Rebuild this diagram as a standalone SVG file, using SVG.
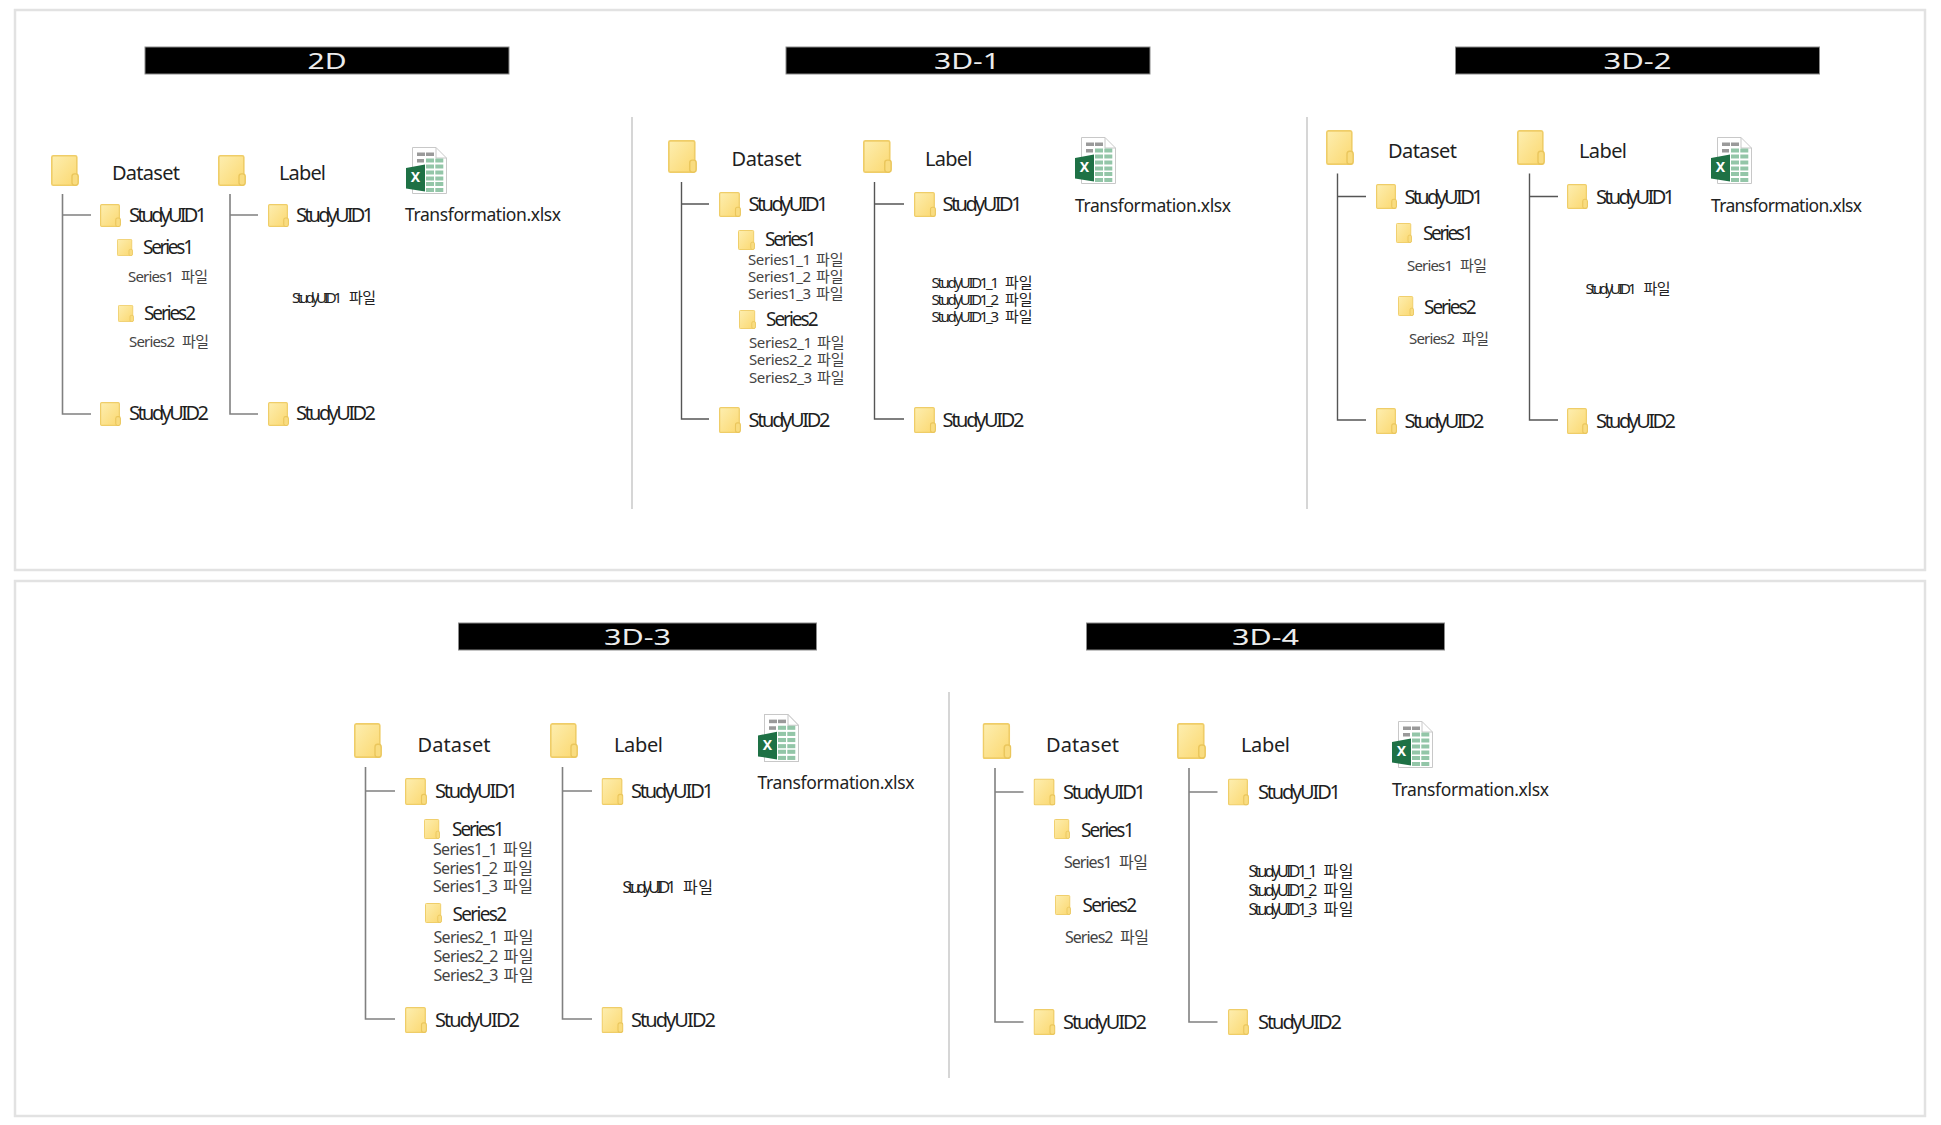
<svg xmlns="http://www.w3.org/2000/svg" width="1941" height="1125" viewBox="0 0 1941 1125">
<style>
text{font-family:"Noto Sans","Noto Sans CJK KR",sans-serif;fill:#1f1f1f}
.panel{fill:#fff;stroke:#e2e2e2;stroke-width:2.5}
.bar{fill:#000;stroke:#8a8a8a;stroke-width:1}
.cap{font-size:21px;fill:#ececec;text-anchor:middle}
.h{font-size:20px}
.s{font-size:20px}
.r{font-size:19px}
.f{font-size:15px;fill:#444}
.l{font-size:15px;fill:#222}
.big{font-size:16px}
.x{font-size:17.5px;fill:#222}
.div{fill:none;stroke:#d6d6d6;stroke-width:2}
.c{fill:none;stroke:#808080;stroke-width:1.6}
.cd{fill:none;stroke:#555;stroke-width:1.4}
</style>
<defs>
<linearGradient id="fg" x1="0" y1="0" x2="1" y2="1"><stop offset="0" stop-color="#fdeeb0"/><stop offset="1" stop-color="#fbd870"/></linearGradient>
<symbol id="folder" viewBox="0 0 28 32" preserveAspectRatio="none">
<rect x="0.8" y="0.8" width="25" height="30.4" rx="1.5" fill="url(#fg)" stroke="#efcd68" stroke-width="1.6"/>
<rect x="21" y="19.5" width="6.2" height="11.7" rx="2.5" fill="#f9dc80" stroke="#eac65c" stroke-width="1.4"/>
</symbol>
<symbol id="xl" viewBox="0 0 41 47" preserveAspectRatio="none">
<path d="M6.5 .5H30L40.5 11V46.5H6.5Z" fill="#fff" stroke="#c8c8c8"/>
<path d="M30 .5V11H40.5" fill="none" stroke="#c8c8c8"/>
<g fill="#9a9a9a"><rect x="11" y="5.5" width="8" height="3.5"/><rect x="20" y="5.5" width="8" height="3.5"/><rect x="11" y="12" width="7" height="3.5"/></g>
<g fill="#93c6a8"><rect x="20" y="11.5" width="8" height="4"/><rect x="29.3" y="11.5" width="8" height="4"/><rect x="20" y="17.5" width="8" height="4"/><rect x="29.3" y="17.5" width="8" height="4"/><rect x="20" y="23.5" width="8" height="4"/><rect x="29.3" y="23.5" width="8" height="4"/><rect x="20" y="29.5" width="8" height="4"/><rect x="29.3" y="29.5" width="8" height="4"/><rect x="20" y="35" width="8" height="4"/><rect x="29.3" y="35" width="8" height="4"/><rect x="20" y="41" width="8" height="4"/><rect x="29.3" y="41" width="8" height="4"/></g>
<path d="M0 21 19 17.5V44.5L0 41.5Z" fill="#1e7145"/>
<text x="9.5" y="35" font-size="14" font-weight="700" text-anchor="middle" style="fill:#fff">X</text>
</symbol>
</defs>
<rect width="1941" height="1125" fill="#fff"/>
<rect class="panel" x="15" y="10" width="1910" height="560"/>
<rect class="panel" x="15" y="581" width="1910" height="535"/>
<line class="div" x1="632" y1="117" x2="632" y2="509"/>
<line class="div" x1="1307" y1="117" x2="1307" y2="509"/>
<line class="div" x1="949" y1="692" x2="949" y2="1078"/>

<g id="connectors">
<path class="c" d="M62.5 194V414H91M62.5 215H91M230 194V414H258M230 215H258"/>
<path class="cd" d="M681.5 182V419H709M681.5 204H709M874.5 182V419H904M874.5 204H904"/>
<path class="cd" d="M1337.5 173.5V420H1366M1337.5 196.5H1366M1529.5 173.5V420H1558M1529.5 196.5H1558"/>
<path class="c" d="M365.5 767V1019H395M365.5 791H395M562.5 767V1019H592M562.5 791H592"/>
<path class="c" d="M995 768V1022H1023.5M995 792H1023.5M1189 768V1022H1217.5M1189 792H1217.5"/>
</g>

<!-- 2D -->
<g id="title-2d"><rect class="bar" x="145" y="47" width="364" height="27"/><text class="cap" x="327" y="69" textLength="39" lengthAdjust="spacingAndGlyphs">2D</text></g>
<g id="d2-dataset"><use href="#folder" x="51" y="155" width="28" height="31"/><text class="h" x="112" y="180" textLength="68">Dataset</text></g>
<g id="d2-label"><use href="#folder" x="218" y="155" width="28" height="31"/><text class="h" x="279" y="180" textLength="47">Label</text></g>
<g id="d2-xlsx"><use href="#xl" x="406" y="147" width="41" height="47"/><text class="x" x="405" y="221" textLength="156">Transformation.xlsx</text></g>
<g id="d2-ds-study1"><use href="#folder" x="100" y="204" width="21" height="23"/><text class="s" x="129" y="222" textLength="78">StudyUID1</text></g>
<g id="d2-series1"><use href="#folder" x="117" y="239" width="16" height="17"/><text class="r" x="143" y="254" textLength="51">Series1</text></g>
<g id="d2-series1-file"><text class="f" x="128" y="282"><tspan textLength="46">Series1</tspan> <tspan x="181" textLength="27">파일</tspan></text></g>
<g id="d2-series2"><use href="#folder" x="118" y="305" width="16" height="17"/><text class="r" x="144" y="320" textLength="52">Series2</text></g>
<g id="d2-series2-file"><text class="f" x="129" y="347"><tspan textLength="46">Series2</tspan> <tspan x="182" textLength="27">파일</tspan></text></g>
<g id="d2-ds-study2"><use href="#folder" x="100" y="402" width="21" height="24"/><text class="s" x="129" y="420" textLength="80">StudyUID2</text></g>
<g id="d2-lb-study1"><use href="#folder" x="268" y="204" width="21" height="23"/><text class="s" x="296" y="222" textLength="78">StudyUID1</text></g>
<g id="d2-lb-file"><text class="l" x="292" y="303"><tspan textLength="50">StudyUID1</tspan> <tspan x="349" textLength="27">파일</tspan></text></g>
<g id="d2-lb-study2"><use href="#folder" x="268" y="402" width="21" height="24"/><text class="s" x="296" y="420" textLength="80">StudyUID2</text></g>

<!-- 3D-1 -->
<g id="title-3d1"><rect class="bar" x="786" y="47" width="364" height="27"/><text class="cap" x="967" y="69" textLength="66" lengthAdjust="spacingAndGlyphs">3D-1</text></g>
<g id="a-dataset"><use href="#folder" x="668" y="140" width="29" height="33"/><text class="h" x="731.5" y="166" textLength="70">Dataset</text></g>
<g id="a-label"><use href="#folder" x="863" y="140" width="29" height="33"/><text class="h" x="925" y="166" textLength="47.5">Label</text></g>
<g id="a-xlsx"><use href="#xl" x="1075" y="137" width="41" height="47"/><text class="x" x="1075" y="212" textLength="156">Transformation.xlsx</text></g>
<g id="a-ds-study1"><use href="#folder" x="719" y="192" width="22" height="25"/><text class="s" x="748.5" y="211" textLength="80">StudyUID1</text></g>
<g id="a-series1"><use href="#folder" x="738" y="230" width="17" height="20"/><text class="r" x="765" y="246" textLength="51.5">Series1</text></g>
<g id="a-s1-files"><text class="f" x="748" y="265"><tspan textLength="63">Series1_1</tspan> <tspan x="816" textLength="27.5">파일</tspan></text><text class="f" x="748" y="282"><tspan textLength="63">Series1_2</tspan> <tspan x="816" textLength="27.5">파일</tspan></text><text class="f" x="748" y="299"><tspan textLength="63">Series1_3</tspan> <tspan x="816" textLength="27.5">파일</tspan></text></g>
<g id="a-series2"><use href="#folder" x="739" y="310" width="17" height="19"/><text class="r" x="766" y="326" textLength="52.5">Series2</text></g>
<g id="a-s2-files"><text class="f" x="749" y="348"><tspan textLength="63">Series2_1</tspan> <tspan x="817" textLength="27.5">파일</tspan></text><text class="f" x="749" y="365"><tspan textLength="63">Series2_2</tspan> <tspan x="817" textLength="27.5">파일</tspan></text><text class="f" x="749" y="382.5"><tspan textLength="63">Series2_3</tspan> <tspan x="817" textLength="27.5">파일</tspan></text></g>
<g id="a-ds-study2"><use href="#folder" x="719" y="407" width="22" height="26"/><text class="s" x="748.5" y="427" textLength="82">StudyUID2</text></g>
<g id="a-lb-study1"><use href="#folder" x="914" y="192" width="22" height="25"/><text class="s" x="942.5" y="211" textLength="80">StudyUID1</text></g>
<g id="a-lb-files"><text class="l" x="931.5" y="288"><tspan textLength="67.5">StudyUID1_1</tspan> <tspan x="1005" textLength="27.5">파일</tspan></text><text class="l" x="931.5" y="305"><tspan textLength="67.5">StudyUID1_2</tspan> <tspan x="1005" textLength="27.5">파일</tspan></text><text class="l" x="931.5" y="322"><tspan textLength="67.5">StudyUID1_3</tspan> <tspan x="1005" textLength="27.5">파일</tspan></text></g>
<g id="a-lb-study2"><use href="#folder" x="914" y="407" width="22" height="26"/><text class="s" x="942.5" y="427" textLength="82">StudyUID2</text></g>

<!-- 3D-2 -->
<g id="title-3d2"><rect class="bar" x="1455.5" y="47" width="364" height="27"/><text class="cap" x="1637.5" y="69" textLength="68" lengthAdjust="spacingAndGlyphs">3D-2</text></g>
<g id="b-dataset"><use href="#folder" x="1326" y="130" width="28" height="35"/><text class="h" x="1388" y="157.5" textLength="69">Dataset</text></g>
<g id="b-label"><use href="#folder" x="1517" y="130" width="28" height="35"/><text class="h" x="1579" y="157.5" textLength="48">Label</text></g>
<g id="b-xlsx"><use href="#xl" x="1711" y="137" width="41" height="47"/><text class="x" x="1711" y="212" textLength="151">Transformation.xlsx</text></g>
<g id="b-ds-study1"><use href="#folder" x="1376" y="184" width="21" height="25"/><text class="s" x="1404.5" y="204" textLength="79">StudyUID1</text></g>
<g id="b-series1"><use href="#folder" x="1396" y="223" width="16" height="20"/><text class="r" x="1423" y="240" textLength="50.5">Series1</text></g>
<g id="b-s1-file"><text class="f" x="1407" y="271"><tspan textLength="46">Series1</tspan> <tspan x="1460" textLength="27">파일</tspan></text></g>
<g id="b-series2"><use href="#folder" x="1398" y="296" width="16" height="20"/><text class="r" x="1424" y="313.5" textLength="52.5">Series2</text></g>
<g id="b-s2-file"><text class="f" x="1409" y="344"><tspan textLength="46">Series2</tspan> <tspan x="1462" textLength="27">파일</tspan></text></g>
<g id="b-ds-study2"><use href="#folder" x="1376" y="408" width="21" height="26"/><text class="s" x="1404.5" y="427.5" textLength="80">StudyUID2</text></g>
<g id="b-lb-study1"><use href="#folder" x="1567" y="184" width="21" height="25"/><text class="s" x="1596" y="204" textLength="79">StudyUID1</text></g>
<g id="b-lb-file"><text class="l" x="1585.5" y="293.5"><tspan textLength="51">StudyUID1</tspan> <tspan x="1643.5" textLength="27">파일</tspan></text></g>
<g id="b-lb-study2"><use href="#folder" x="1567" y="408" width="21" height="26"/><text class="s" x="1596" y="427.5" textLength="80">StudyUID2</text></g>

<!-- 3D-3 -->
<g id="title-3d3"><rect class="bar" x="458.5" y="623" width="358" height="27"/><text class="cap" x="637.5" y="645" textLength="67" lengthAdjust="spacingAndGlyphs">3D-3</text></g>
<g id="c-dataset"><use href="#folder" x="354" y="723" width="28" height="35"/><text class="h" x="417.5" y="752" textLength="73">Dataset</text></g>
<g id="c-label"><use href="#folder" x="550" y="723" width="28" height="35"/><text class="h" x="614" y="752" textLength="49">Label</text></g>
<g id="c-xlsx"><use href="#xl" x="758" y="714" width="41" height="48"/><text class="x" x="757.5" y="788.5" textLength="157">Transformation.xlsx</text></g>
<g id="c-ds-study1"><use href="#folder" x="405" y="778" width="22" height="27"/><text class="s" x="435" y="798" textLength="83">StudyUID1</text></g>
<g id="c-series1"><use href="#folder" x="424" y="819" width="16" height="20"/><text class="r" x="452" y="836" textLength="52.5">Series1</text></g>
<g id="c-s1-files"><text class="f big" x="433" y="855"><tspan textLength="65">Series1_1</tspan> <tspan x="503" textLength="30">파일</tspan></text><text class="f big" x="433" y="873.5"><tspan textLength="65">Series1_2</tspan> <tspan x="503" textLength="30">파일</tspan></text><text class="f big" x="433" y="892"><tspan textLength="65">Series1_3</tspan> <tspan x="503" textLength="30">파일</tspan></text></g>
<g id="c-series2"><use href="#folder" x="425" y="903" width="17" height="20"/><text class="r" x="452.5" y="920.5" textLength="54.5">Series2</text></g>
<g id="c-s2-files"><text class="f big" x="433.5" y="943"><tspan textLength="65">Series2_1</tspan> <tspan x="503.5" textLength="30">파일</tspan></text><text class="f big" x="433.5" y="962"><tspan textLength="65">Series2_2</tspan> <tspan x="503.5" textLength="30">파일</tspan></text><text class="f big" x="433.5" y="980.5"><tspan textLength="65">Series2_3</tspan> <tspan x="503.5" textLength="30">파일</tspan></text></g>
<g id="c-ds-study2"><use href="#folder" x="405" y="1007" width="22" height="26"/><text class="s" x="435" y="1026.5" textLength="85">StudyUID2</text></g>
<g id="c-lb-study1"><use href="#folder" x="601.5" y="778" width="22" height="27"/><text class="s" x="631" y="798" textLength="83">StudyUID1</text></g>
<g id="c-lb-file"><text class="l big" x="622.5" y="893"><tspan textLength="53.5">StudyUID1</tspan> <tspan x="683" textLength="30">파일</tspan></text></g>
<g id="c-lb-study2"><use href="#folder" x="601.5" y="1007" width="22" height="26"/><text class="s" x="631" y="1026.5" textLength="85">StudyUID2</text></g>

<!-- 3D-4 -->
<g id="title-3d4"><rect class="bar" x="1086.5" y="623" width="358" height="27"/><text class="cap" x="1265.5" y="645" textLength="67" lengthAdjust="spacingAndGlyphs">3D-4</text></g>
<g id="e-dataset"><use href="#folder" x="982.5" y="723" width="29" height="36"/><text class="h" x="1046" y="752" textLength="73">Dataset</text></g>
<g id="e-label"><use href="#folder" x="1177" y="723" width="29" height="36"/><text class="h" x="1241" y="752" textLength="49">Label</text></g>
<g id="e-xlsx"><use href="#xl" x="1392" y="721" width="41" height="47"/><text class="x" x="1392" y="795.5" textLength="157">Transformation.xlsx</text></g>
<g id="e-ds-study1"><use href="#folder" x="1033.5" y="778.5" width="22" height="27"/><text class="s" x="1063" y="799" textLength="83">StudyUID1</text></g>
<g id="e-series1"><use href="#folder" x="1054" y="819" width="16" height="20"/><text class="r" x="1081" y="836.5" textLength="53.5">Series1</text></g>
<g id="e-s1-file"><text class="f big" x="1064" y="867.5"><tspan textLength="48.5">Series1</tspan> <tspan x="1119" textLength="29">파일</tspan></text></g>
<g id="e-series2"><use href="#folder" x="1055" y="895" width="16" height="20"/><text class="r" x="1082.5" y="912" textLength="54.5">Series2</text></g>
<g id="e-s2-file"><text class="f big" x="1065" y="942.5"><tspan textLength="48.5">Series2</tspan> <tspan x="1120" textLength="29">파일</tspan></text></g>
<g id="e-ds-study2"><use href="#folder" x="1033.5" y="1009" width="22" height="26"/><text class="s" x="1063" y="1029" textLength="84">StudyUID2</text></g>
<g id="e-lb-study1"><use href="#folder" x="1228" y="778.5" width="21" height="27"/><text class="s" x="1258" y="799" textLength="83">StudyUID1</text></g>
<g id="e-lb-files"><text class="l big" x="1248.5" y="877"><tspan textLength="69">StudyUID1_1</tspan> <tspan x="1323.5" textLength="30">파일</tspan></text><text class="l big" x="1248.5" y="896"><tspan textLength="69">StudyUID1_2</tspan> <tspan x="1323.5" textLength="30">파일</tspan></text><text class="l big" x="1248.5" y="914.5"><tspan textLength="69">StudyUID1_3</tspan> <tspan x="1323.5" textLength="30">파일</tspan></text></g>
<g id="e-lb-study2"><use href="#folder" x="1228" y="1009" width="21" height="26"/><text class="s" x="1258" y="1029" textLength="84">StudyUID2</text></g>
</svg>
